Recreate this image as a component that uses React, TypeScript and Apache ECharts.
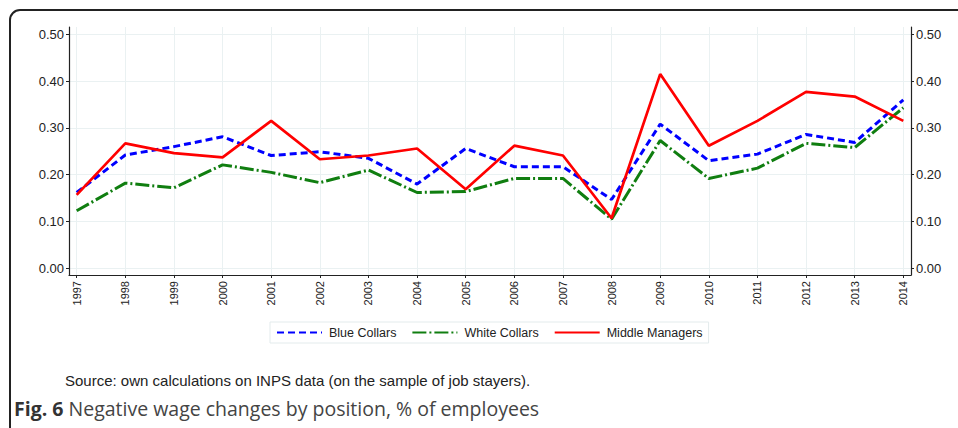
import React, { useEffect, useRef } from "react";
import * as echarts from "echarts";

const years = [1997, 1998, 1999, 2000, 2001, 2002, 2003, 2004, 2005, 2006, 2007, 2008, 2009, 2010, 2011, 2012, 2013, 2014];
const blueCollars = [0.162, 0.242, 0.26, 0.281, 0.241, 0.249, 0.235, 0.18, 0.256, 0.217, 0.217, 0.147, 0.308, 0.23, 0.244, 0.286, 0.269, 0.36];
const whiteCollars = [0.123, 0.182, 0.172, 0.221, 0.205, 0.183, 0.21, 0.162, 0.164, 0.192, 0.192, 0.105, 0.273, 0.192, 0.214, 0.267, 0.258, 0.343];
const middleManagers = [0.157, 0.267, 0.246, 0.237, 0.315, 0.233, 0.241, 0.256, 0.169, 0.262, 0.241, 0.107, 0.415, 0.262, 0.315, 0.377, 0.367, 0.315];
const yTicks = [0, 0.1, 0.2, 0.3, 0.4, 0.5];
const seriesNames = ["Blue Collars", "White Collars", "Middle Managers"];
const sourceNote = "Source: own calculations on INPS data (on the sample of job stayers).";
const figLabel = "Fig. 6";
const figCaption = " Negative wage changes by position, % of employees";

const FONT = "'Liberation Sans', Arial, Helvetica, sans-serif";
const CAPTION_FONT = "'Open Sans', 'Noto Sans', sans-serif";

export default function App() {
  const ref = useRef<HTMLDivElement>(null);
  useEffect(() => {
    if (!ref.current) return;
    const chart = echarts.init(ref.current, null, { renderer: "svg" });
    const pair = (vals: number[]) => years.map((y, i) => [y, vals[i]]);
    const yAxisCommon = {
      type: "value" as const,
      min: -0.0143,
      max: 0.5156,
      axisLine: { show: true, lineStyle: { color: "#222", width: 1.2 } },
      axisTick: { show: true, length: 3, customValues: yTicks, lineStyle: { color: "#222" } },
      axisLabel: {
        customValues: yTicks,
        formatter: (v: number) => v.toFixed(2),
        fontFamily: FONT,
        fontSize: 13,
        color: "#222",
        margin: 5,
      },
    };
    chart.setOption({
      animation: false,
      backgroundColor: "#fff",
      grid: { left: 69, right: 47, top: 27, bottom: 153 },
      xAxis: {
        type: "value",
        min: 1996.842,
        max: 2014.158,
        axisLine: { show: true, onZero: false, lineStyle: { color: "#222", width: 1.2 } },
        axisTick: { show: true, length: 3, customValues: years, lineStyle: { color: "#222" } },
        axisLabel: {
          customValues: years,
          rotate: 90,
          formatter: (v: number) => String(v),
          fontFamily: FONT,
          fontSize: 11,
          color: "#222",
          margin: 6,
        },
        splitLine: { show: true, lineStyle: { color: "#eaf1f2", width: 1 } },
      },
      yAxis: [
        {
          ...yAxisCommon,
          position: "left",
          splitLine: { show: true, lineStyle: { color: "#eaf1f2", width: 1 } },
        },
        {
          ...yAxisCommon,
          position: "right",
          splitLine: { show: false },
        },
      ],
      legend: {
        left: 270,
        top: 322,
        width: 438,
        height: 22,
        padding: [4, 6, 4, 6],
        borderColor: "#e3ebec",
        borderWidth: 1,
        itemWidth: 45,
        itemHeight: 10,
        itemGap: 15,
        itemStyle: { opacity: 0 },
        textStyle: { fontFamily: FONT, fontSize: 12.5, color: "#222", padding: [0, 0, 0, 2] },
        data: seriesNames,
      },
      series: [
        {
          name: seriesNames[0],
          type: "line",
          data: pair(blueCollars),
          symbol: "none",
          lineStyle: { color: "#0000ff", width: 3, type: [7, 4] },
          itemStyle: { color: "#0000ff" },
          z: 3,
        },
        {
          name: seriesNames[1],
          type: "line",
          data: pair(whiteCollars),
          symbol: "none",
          lineStyle: { color: "#107e10", width: 3, type: [14, 3, 2, 3] },
          itemStyle: { color: "#107e10" },
          z: 2,
        },
        {
          name: seriesNames[2],
          type: "line",
          data: pair(middleManagers),
          symbol: "none",
          lineStyle: { color: "#ff0000", width: 2.7 },
          itemStyle: { color: "#ff0000" },
          z: 4,
        },
      ],
      graphic: [
        {
          type: "rect",
          shape: { x: 10, y: 10, width: 980, height: 440, r: 10 },
          style: { fill: "none", stroke: "#222", lineWidth: 2 },
          silent: true,
        },
        {
          type: "text",
          x: 65,
          y: 373,
          style: { text: sourceNote, font: `15px ${FONT}`, fill: "#222" },
        },
        {
          type: "text",
          x: 14,
          y: 398,
          style: {
            text: `{b|${figLabel}}{r|${figCaption}}`,
            rich: {
              b: { fontFamily: CAPTION_FONT, fontWeight: "bold", fontSize: 19.5, fill: "#333" },
              r: { fontFamily: CAPTION_FONT, fontSize: 19.5, fill: "#444" },
            },
          },
        },
      ],
    });
    return () => chart.dispose();
  }, []);
  return (
    <div
      ref={ref}
      style={{ position: "fixed", left: 0, top: 0, width: 958, height: 428 }}
    />
  );
}
